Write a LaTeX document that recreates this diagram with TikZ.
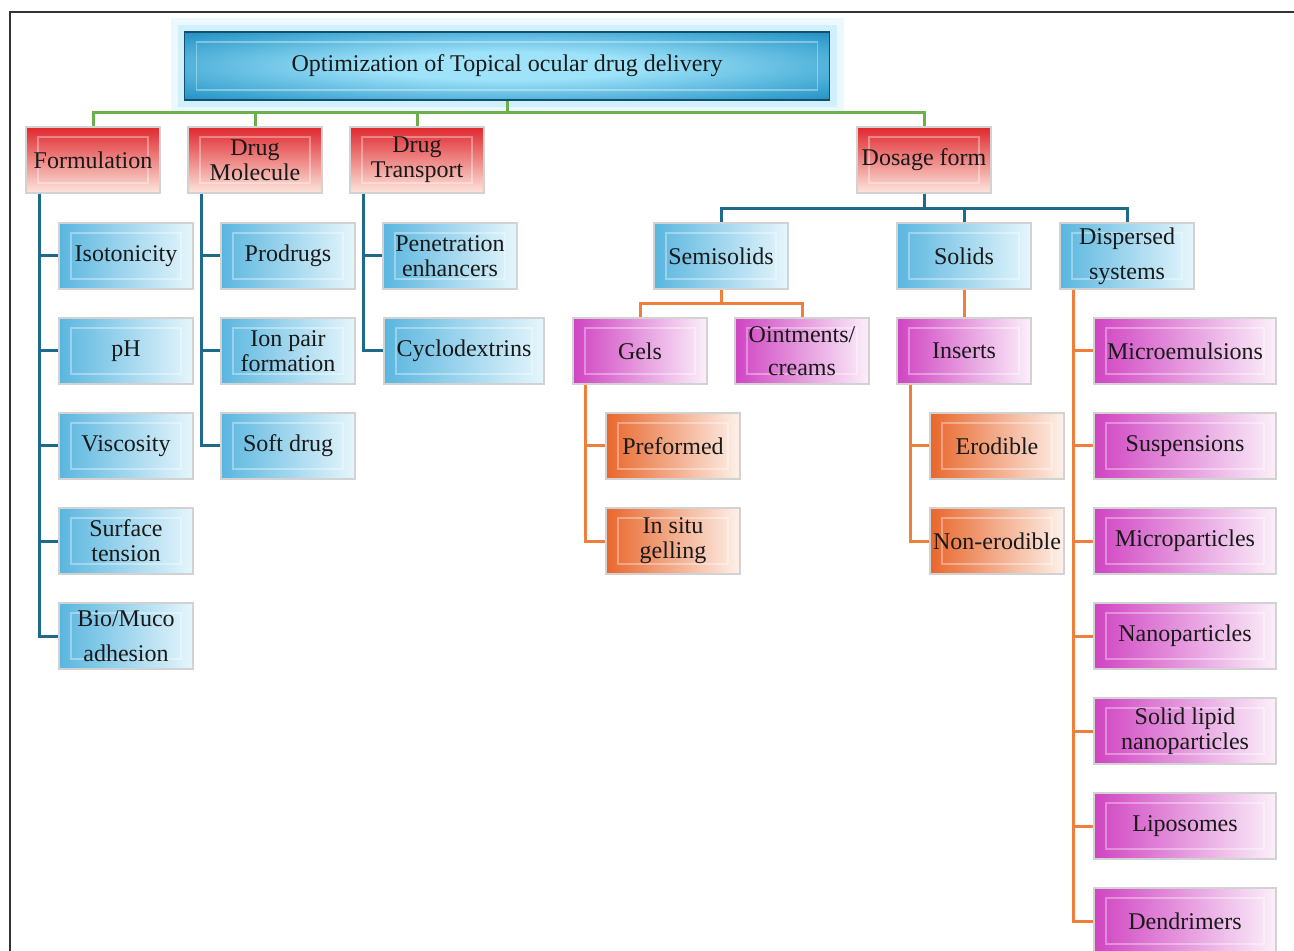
\documentclass[tikz,border=0pt]{standalone}
\usepackage{fontspec}
\setmainfont{Liberation Serif}
\definecolor{titledark}{HTML}{15648C}
\definecolor{titlemid}{HTML}{2F9CCB}
\definecolor{titlelight}{HTML}{9FE3FA}
\definecolor{headred}{HTML}{E0282E}
\definecolor{headpeach}{HTML}{FCE6DC}
\definecolor{boxblue}{HTML}{5AB6DF}
\definecolor{boxbluelight}{HTML}{E6F6FC}
\definecolor{boxpink}{HTML}{D044C2}
\definecolor{boxpinklight}{HTML}{FBF0FA}
\definecolor{boxorange}{HTML}{E8672C}
\definecolor{boxorangelight}{HTML}{FDF1EA}
\definecolor{linegreen}{HTML}{6AB04C}
\definecolor{lineblue}{HTML}{1F6A8A}
\definecolor{lineorange}{HTML}{F07F3C}
\pgfdeclareradialshading{titleglow}{\pgfpoint{0bp}{0bp}}{%
  color(0bp)=(titlelight); color(10bp)=(titlelight); color(32bp)=(titlemid);
  color(46bp)=(titledark); color(60bp)=(titledark)}
\tikzset{
  box/.style={rectangle, draw=gray!35, line width=0.6pt,
    minimum width=67pt, minimum height=33pt, inner xsep=1pt, inner ysep=2pt,
    align=center, text=black!90, font=\fontsize{12}{12.5}\selectfont,
    path picture={\draw[white, opacity=0.35, line width=0.7pt]
      ([shift={(6pt,-5pt)}]path picture bounding box.north west) rectangle
      ([shift={(-6pt,5pt)}]path picture bounding box.south east);}},
  titlebox/.style={box, minimum width=322.5pt, minimum height=34pt,
    shading=titleglow, draw=titledark!80!black,
    preaction={draw=cyan!8, line width=14pt, rounded corners=7pt},
    preaction={draw=cyan!18, line width=7pt, rounded corners=3pt}},
  headbox/.style={box, top color=headred, bottom color=headpeach},
  bluebox/.style={box, left color=boxblue, right color=boxbluelight},
  pinkbox/.style={box, left color=boxpink, right color=boxpinklight},
  orangebox/.style={box, left color=boxorange, right color=boxorangelight},
  greenline/.style={draw=linegreen, line width=1.5pt},
  blueline/.style={draw=lineblue, line width=1.5pt},
  orangeline/.style={draw=lineorange, line width=1.5pt},
  frameline/.style={draw=black!80, line width=1pt}
}
\begin{document}
\begin{tikzpicture}[x=0.5pt, y=-0.5pt]
      \useasboundingbox (0,0) rectangle (1294,951);
      \draw[frameline] (1294,12) -- (10,12) -- (10,951);
      \path
        (507,66) node[titlebox] (top){Optimization of Topical ocular drug delivery}
        (93,160) node[headbox] (form){Formulation}
        (255,160) node[headbox] (drugmol){Drug\\Molecule}
        (417,160) node[headbox] (drugtr){Drug\\Transport}
        (924,160) node[headbox] (dosage){Dosage form};
      \path
        (126,256) node[bluebox] (iso){Isotonicity}
        (126,351) node[bluebox] (ph){pH}
        (126,446) node[bluebox] (visc){Viscosity}
        (126,541) node[bluebox] (surf){Surface\\tension}
        (126,636) node[bluebox] (bio){Bio/Muco\\[5pt]adhesion}
        (288,256) node[bluebox] (prod){Prodrugs}
        (288,351) node[bluebox] (ion){Ion pair\\formation}
        (288,446) node[bluebox] (soft){Soft drug}
        (450,256) node[bluebox] (pen){Penetration\\enhancers}
        (464,351) node[bluebox, minimum width=80pt] (cyclo){Cyclodextrins}
        (721,256) node[bluebox] (semi){Semisolids}
        (964,256) node[bluebox] (solids){Solids}
        (1127,256) node[bluebox] (disp){Dispersed\\[5pt]systems};
      \path
        (640,351) node[pinkbox] (gels){Gels}
        (802,351) node[pinkbox] (oint){Ointments/\\[4pt]creams}
        (964,351) node[pinkbox] (inserts){Inserts}
        (673,446) node[orangebox] (pref){Preformed}
        (673,541) node[orangebox] (insitu){In situ\\gelling}
        (997,446) node[orangebox] (erod){Erodible}
        (997,541) node[orangebox] (nonerod){Non-erodible}
        (1185,351) node[pinkbox, minimum width=91pt] (micro){Microemulsions}
        (1185,446) node[pinkbox, minimum width=91pt] (susp){Suspensions}
        (1185,541) node[pinkbox, minimum width=91pt] (mpart){Microparticles}
        (1185,636) node[pinkbox, minimum width=91pt] (nano){Nanoparticles}
        (1185,731) node[pinkbox, minimum width=91pt] (sln){Solid lipid\\nanoparticles}
        (1185,826) node[pinkbox, minimum width=91pt] (lipo){Liposomes}
        (1185,921) node[pinkbox, minimum width=91pt] (dend){Dendrimers};
      \begin{scope}[greenline]
        \draw (top.south) -- ++(0,12) -| (form.north);
        \draw (top.south) -- ++(0,12) -| (drugmol.north);
        \draw (top.south) -- ++(0,12) -| (drugtr.north);
        \draw (top.south) -- ++(0,12) -| (dosage.north);
      \end{scope}
      \begin{scope}[blueline]
        \draw ([xshift=7pt]form.south west) |- (iso.west);
        \draw ([xshift=7pt]form.south west) |- (ph.west);
        \draw ([xshift=7pt]form.south west) |- (visc.west);
        \draw ([xshift=7pt]form.south west) |- (surf.west);
        \draw ([xshift=7pt]form.south west) |- (bio.west);
        \draw ([xshift=7pt]drugmol.south west) |- (prod.west);
        \draw ([xshift=7pt]drugmol.south west) |- (ion.west);
        \draw ([xshift=7pt]drugmol.south west) |- (soft.west);
        \draw ([xshift=7pt]drugtr.south west) |- (pen.west);
        \draw ([xshift=7pt]drugtr.south west) |- (cyclo.west);
        \draw (dosage.south) -- ++(0,15) -| (semi.north);
        \draw (dosage.south) -- ++(0,15) -| (solids.north);
        \draw (dosage.south) -- ++(0,15) -| (disp.north);
      \end{scope}
      \begin{scope}[orangeline]
        \draw (semi.south) -- ++(0,14) -| (gels.north);
        \draw (semi.south) -- ++(0,14) -| (oint.north);
        \draw (solids.south) -- (inserts.north);
        \draw ([xshift=6.5pt]gels.south west) |- (pref.west);
        \draw ([xshift=6.5pt]gels.south west) |- (insitu.west);
        \draw ([xshift=7pt]inserts.south west) |- (erod.west);
        \draw ([xshift=7pt]inserts.south west) |- (nonerod.west);
        \draw ([xshift=7pt]disp.south west) |- (micro.west);
        \draw ([xshift=7pt]disp.south west) |- (susp.west);
        \draw ([xshift=7pt]disp.south west) |- (mpart.west);
        \draw ([xshift=7pt]disp.south west) |- (nano.west);
        \draw ([xshift=7pt]disp.south west) |- (sln.west);
        \draw ([xshift=7pt]disp.south west) |- (lipo.west);
        \draw ([xshift=7pt]disp.south west) |- (dend.west);
      \end{scope}
    \end{tikzpicture}
\end{document}
